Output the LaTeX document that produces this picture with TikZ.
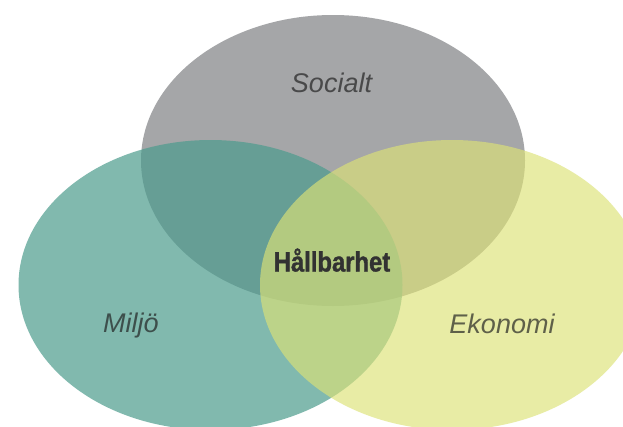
\documentclass[tikz,border=0pt]{standalone}
\usepackage{fontspec}
\setmainfont{Liberation Sans}
\newfontfamily\condbold[FakeStretch=0.85,FakeBold=1.2]{Liberation Sans Bold}
\definecolor{socgray}{RGB}{165,166,168}
\definecolor{miltealbase}{RGB}{76,156,141}
\definecolor{ekoyellowbase}{RGB}{221,226,118}
\definecolor{labelink}{RGB}{30,30,30}
\definecolor{centerink}{RGB}{50,50,50}
\tikzset{
  sociallobe/.style={fill=socgray},
  miljolobe/.style={fill=miltealbase, fill opacity=0.7},
  ekolobe/.style={fill=ekoyellowbase, fill opacity=0.65},
  lobelabel/.style={inner sep=0pt, anchor=base, text=labelink, text opacity=0.68,
    font=\fontsize{27bp}{30bp}\selectfont\itshape},
  centerlabel/.style={inner sep=0pt, anchor=base, text=centerink,
    font=\fontsize{28bp}{30bp}\selectfont\condbold}
}
\begin{document}
\begin{tikzpicture}[x=1bp,y=-1bp]
\useasboundingbox (0,0) rectangle (623,426);
\clip (0,0) rectangle (623,426);
\fill[white] (0,0) rectangle (623,426);
\fill[sociallobe] (333,160.5) ellipse [x radius=192, y radius=145.5];
\fill[miljolobe] (210.5,285) ellipse [x radius=192, y radius=145];
\fill[ekolobe] (452,285) ellipse [x radius=192, y radius=145];
\node[lobelabel] (socialt) at (331.5,92) {Socialt};
\node[lobelabel] (miljo) at (131,332) {Miljö};
\node[lobelabel] (ekonomi) at (502,333) {Ekonomi};
\node[centerlabel] (hallbarhet) at (332,271.5) {Hållbarhet};
\end{tikzpicture}
\end{document}
